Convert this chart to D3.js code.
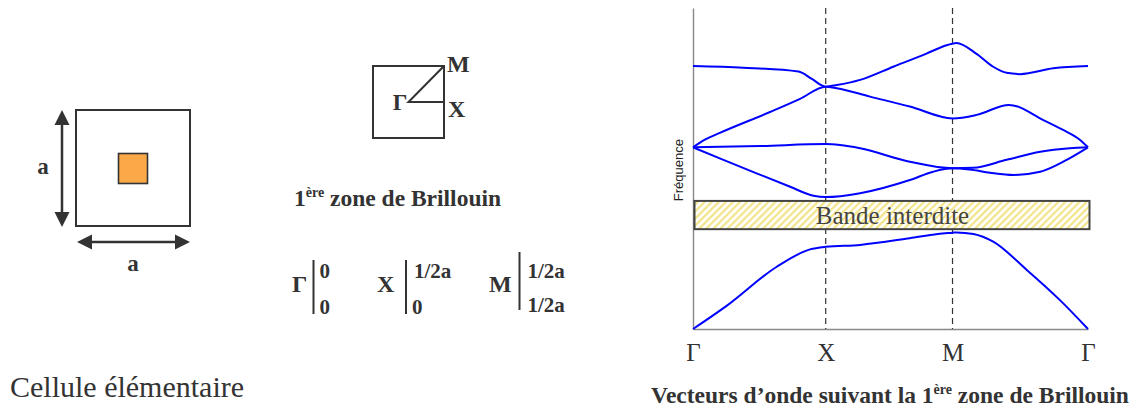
<!DOCTYPE html>
<html>
<head>
<meta charset="utf-8">
<script src="https://cdn.jsdelivr.net/npm/d3@7"></script>
<style>
  body { margin: 0; background: #fff; }
  svg { display: block; }
</style>
</head>
<body>
<svg id="fig" width="1138" height="411"></svg>
<script>
// Wave-vector path positions (fraction of the Γ–X–M–Γ path) and their labels
const kTicks = [0, 0.336, 0.657, 1];
const kLabels = ["Γ", "X", "M", "Γ"];

// Dispersion bands: [k, normalised frequency]
const band1 = [[0,0],[0.085,0.072],[0.212,0.194],[0.296,0.248],[0.336,0.256],[0.423,0.262],[0.549,0.283],[0.62,0.296],[0.6575,0.300],[0.667,0.301],[0.71,0.296],[0.76,0.272],[0.845,0.184],[0.929,0.090],[1,0]];
const band2 = [[0,0.566],[0.077,0.527],[0.161,0.485],[0.246,0.443],[0.305,0.415],[0.336,0.411],[0.423,0.423],[0.549,0.464],[0.608,0.490],[0.6575,0.5006],[0.70,0.497],[0.752,0.487],[0.811,0.480],[0.879,0.490],[0.946,0.527],[1,0.566]];
const band3 = [[0,0.566],[0.17,0.570],[0.336,0.576],[0.372,0.573],[0.423,0.563],[0.549,0.521],[0.6575,0.5006],[0.709,0.502],[0.794,0.527],[0.879,0.552],[0.954,0.563],[1,0.566]];
const band4 = [[0,0.566],[0.029,0.589],[0.068,0.611],[0.195,0.676],[0.271,0.717],[0.336,0.755],[0.364,0.750],[0.448,0.724],[0.549,0.693],[0.6575,0.656],[0.718,0.667],[0.80,0.698],[0.887,0.651],[0.937,0.620],[0.980,0.589],[1,0.566]];
const band5 = [[0,0.819],[0.127,0.814],[0.267,0.802],[0.301,0.779],[0.336,0.755],[0.364,0.760],[0.423,0.776],[0.507,0.817],[0.591,0.858],[0.642,0.884],[0.667,0.891],[0.717,0.858],[0.760,0.817],[0.794,0.798],[0.828,0.794],[0.912,0.812],[1,0.819]];
const bands = [band1, band2, band3, band4, band5];

// Forbidden band (band gap) limits
const gapLow = 0.311;
const gapHigh = 0.399;
const gapLabel = "Bande interdite";
const yLabel = "Fréquence";

const SERIF = "'Liberation Serif', 'Times New Roman', serif";
const SANS = "'Liberation Sans', Arial, sans-serif";
const dark = "#333";

const svg = d3.select("#fig");

// text helper: serif by default
function label(g, px, py, str, size, opts = {}) {
  return g.append("text").attr("x", px).attr("y", py)
    .attr("font-family", opts.family || SERIF)
    .attr("font-size", size)
    .attr("font-weight", opts.bold ? "bold" : "normal")
    .attr("text-anchor", opts.anchor || "start")
    .attr("fill", opts.fill || dark)
    .text(str);
}

// ---------- Left: unit cell ----------
const cell = svg.append("g");
cell.append("rect").attr("x", 76).attr("y", 110).attr("width", 114).attr("height", 116)
  .attr("fill", "none").attr("stroke", dark).attr("stroke-width", 2);
cell.append("rect").attr("x", 118.5).attr("y", 153.5).attr("width", 29).attr("height", 30)
  .attr("fill", "#fba849").attr("stroke", dark).attr("stroke-width", 1.6);

// double-headed arrows
function arrowV(ax, y0, y1) {
  cell.append("line").attr("x1", ax).attr("x2", ax).attr("y1", y0 + 12).attr("y2", y1 - 12)
    .attr("stroke", dark).attr("stroke-width", 2.5);
  cell.append("path").attr("d", `M${ax},${y0} L${ax-7.5},${y0+15} L${ax+7.5},${y0+15}Z`).attr("fill", dark);
  cell.append("path").attr("d", `M${ax},${y1} L${ax-7.5},${y1-15} L${ax+7.5},${y1-15}Z`).attr("fill", dark);
}
function arrowH(ay, x0, x1) {
  cell.append("line").attr("y1", ay).attr("y2", ay).attr("x1", x0 + 12).attr("x2", x1 - 12)
    .attr("stroke", dark).attr("stroke-width", 2.5);
  cell.append("path").attr("d", `M${x0},${ay} L${x0+15},${ay-7.5} L${x0+15},${ay+7.5}Z`).attr("fill", dark);
  cell.append("path").attr("d", `M${x1},${ay} L${x1-15},${ay-7.5} L${x1-15},${ay+7.5}Z`).attr("fill", dark);
}
arrowV(62, 110, 227);
arrowH(242, 77, 190);
label(cell, 43, 174, "a", 23, { bold: true, anchor: "middle" });
label(cell, 133, 271, "a", 23, { bold: true, anchor: "middle" });
label(cell, 10, 397, "Cellule élémentaire", 30);

// ---------- Middle: first Brillouin zone ----------
const bz = svg.append("g");
const bx0 = 373, by0 = 66, bw = 71, bh = 72;
const gx = bx0 + bw / 2, gy = by0 + bh / 2;
bz.append("rect").attr("x", bx0).attr("y", by0).attr("width", bw).attr("height", bh)
  .attr("fill", "none").attr("stroke", dark).attr("stroke-width", 2);
bz.append("path").attr("d", `M${bx0+bw},${by0} L${gx},${gy} L${bx0+bw},${gy}`)
  .attr("fill", "none").attr("stroke", dark).attr("stroke-width", 2);
label(bz, gx - 1, gy + 8, "Γ", 23, { bold: true, anchor: "end" });
label(bz, bx0 + bw + 3, by0 + 6, "M", 24, { bold: true });
label(bz, bx0 + bw + 4, gy + 15, "X", 24, { bold: true });

const bzTitle = label(bz, 294, 206, "", 23.5, { bold: true });
bzTitle.append("tspan").text("1");
bzTitle.append("tspan").attr("font-size", 14).attr("dy", -9).text("ère");
bzTitle.append("tspan").attr("dy", 9).text(" zone de Brillouin");

// high-symmetry point coordinates
const coords = [
  { name: "Γ", x: 292, bar: 313.5, top: "0", bottom: "0", y0: 260, y1: 314 },
  { name: "X", x: 377, bar: 406, top: "1/2a", bottom: "0", y0: 260, y1: 314 },
  { name: "M", x: 489, bar: 519.5, top: "1/2a", bottom: "1/2a", y0: 252, y1: 310 }
];
coords.forEach(c => {
  label(bz, c.x, 292, c.name, 24, { bold: true });
  bz.append("line").attr("x1", c.bar).attr("x2", c.bar).attr("y1", c.y0).attr("y2", c.y1)
    .attr("stroke", dark).attr("stroke-width", 2);
  label(bz, c.bar + (c.top === "0" ? 6 : 8), 278, c.top, 21, { bold: true });
  label(bz, c.bar + (c.bottom === "0" ? 6 : 8), c.name === "M" ? 312 : 314, c.bottom, 21, { bold: true });
});

// ---------- Right: band structure ----------
const x = d3.scaleLinear().domain([0, 1]).range([693, 1088]);
const y = d3.scaleLinear().domain([0, 1]).range([329, 8]);

const defs = svg.append("defs");
const pat = defs.append("pattern").attr("id", "hatch").attr("patternUnits", "userSpaceOnUse")
  .attr("width", 5).attr("height", 5).attr("patternTransform", "rotate(45)");
pat.append("rect").attr("width", 5).attr("height", 5).attr("fill", "#fff");
pat.append("rect").attr("width", 2.2).attr("height", 5).attr("fill", "#f4e488");

const plot = svg.append("g");

// axes: plain domain lines, labels only on the wave-vector axis
const xAxis = d3.axisBottom(x).tickValues(kTicks).tickFormat((d, i) => kLabels[i])
  .tickSize(0).tickPadding(14);
const gX = plot.append("g").attr("transform", `translate(0,${y(0)})`).call(xAxis);
gX.attr("font-family", SERIF);
gX.select(".domain").attr("stroke", "#888").attr("stroke-width", 1.4);
gX.selectAll("text").attr("font-size", 25).attr("fill", dark).attr("font-family", SERIF);

const yAxis = d3.axisLeft(y).tickValues([]).tickSizeOuter(0);
const gY = plot.append("g").attr("transform", `translate(${x(0)},0)`).call(yAxis);
gY.select(".domain").attr("stroke", "#888").attr("stroke-width", 1.4);

plot.append("text").attr("transform", `translate(683,${y(0.495)}) rotate(-90)`)
  .attr("text-anchor", "middle").attr("font-size", 13)
  .attr("font-family", SANS).attr("fill", "#222")
  .text(yLabel);

// vertical dashed lines at X and M
plot.selectAll("line.sym").data(kTicks.slice(1, 3)).join("line").attr("class", "sym")
  .attr("x1", d => x(d)).attr("x2", d => x(d)).attr("y1", y(1)).attr("y2", y(0))
  .attr("stroke", dark).attr("stroke-width", 1.2).attr("stroke-dasharray", "6,4");

// band curves
const line = d3.line().x(d => x(d[0])).y(d => y(d[1])).curve(d3.curveMonotoneX);
plot.selectAll("path.band").data(bands).join("path").attr("class", "band")
  .attr("d", line).attr("fill", "none").attr("stroke", "#0000ff").attr("stroke-width", 2);

// band gap
plot.append("rect").attr("x", x(0) + 1.5).attr("y", y(gapHigh))
  .attr("width", x(1) - x(0)).attr("height", y(gapLow) - y(gapHigh))
  .attr("fill", "url(#hatch)").attr("stroke", "#444").attr("stroke-width", 2);
label(plot, 892.5, (y(gapLow) + y(gapHigh)) / 2 + 9, gapLabel, 25, { anchor: "middle", fill: "#444" });

// x-axis title
const title = label(plot, 890, 403, "", 23.5, { bold: true, anchor: "middle" });
title.append("tspan").text("Vecteurs d’onde suivant la 1");
title.append("tspan").attr("font-size", 14).attr("dy", -9).text("ère");
title.append("tspan").attr("dy", 9).text(" zone de Brillouin");
</script>
</body>
</html>
